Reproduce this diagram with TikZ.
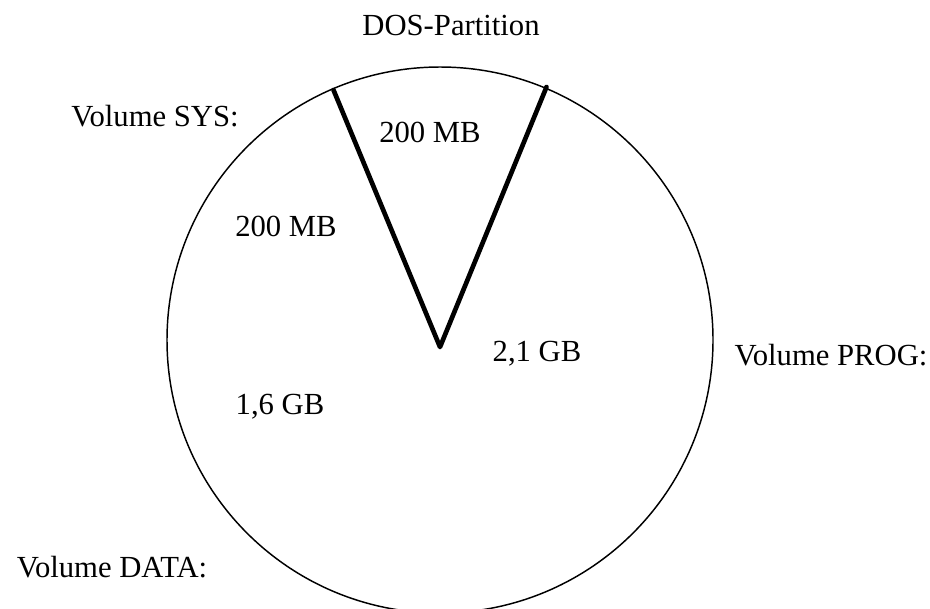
\documentclass[tikz,border=0pt]{standalone}
\usepackage{fontspec}
\setmainfont{Liberation Serif}
\usetikzlibrary{positioning}

\begin{document}
\begin{tikzpicture}[x=0.75pt,y=-0.75pt]
  \tikzset{vtext/.style = {anchor=base,inner sep=0pt,font=\fontsize{23}{28}\selectfont}}
  \tikzset{disk/.style = {draw,line width=1.1pt}}
  \tikzset{sepline/.style = {draw,line width=3.5pt,line cap=round,line join=round}}
  \useasboundingbox (0,0) rectangle (930,608);
  \clip (0,0) rectangle (930,608);

	\coordinate (M) at (440,340);
	\coordinate (V) at (440,347);
	\coordinate (SL) at (333.5,90);
	\coordinate (SR) at (546.5,87);

	\draw[disk] (M) circle (273);
	\draw[sepline] (SL) -- (V) -- (SR);

	\node[vtext] (dos) at (451,35) {DOS-Partition};
	\node[vtext] (sys) at (155,126) {Volume SYS:};
	\node[vtext] (prog) at (831,365) {Volume PROG:};
	\node[vtext] (data) at (112,577) {Volume DATA:};

	\foreach \name/\x/\y/\txt in {dosmb/430/142/200 MB, sysmb/286/236.5/200 MB, proggb/537/361/{2,1 GB}, datagb/280/414/{1,6 GB}}
	\node[vtext] (\name) at (\x,\y) {\txt};

\end{tikzpicture}
\end{document}
